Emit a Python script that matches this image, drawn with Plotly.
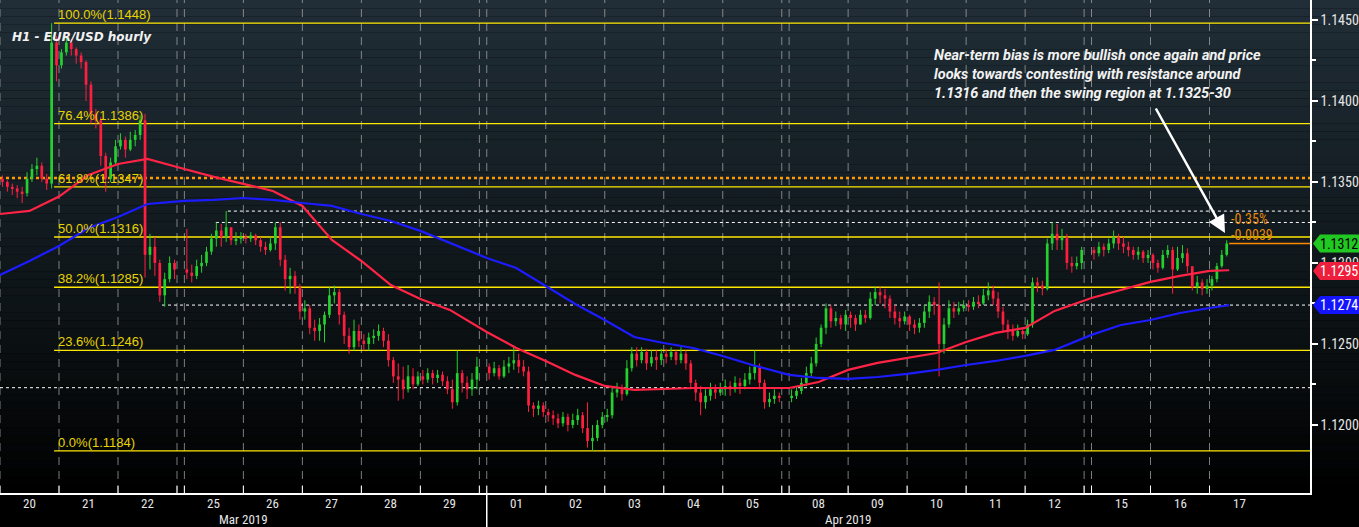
import datetime as dt
import plotly.graph_objects as go

# ---------------- DATA ----------------
trade_dates = ["2019-03-20", "2019-03-21", "2019-03-22", "2019-03-25", "2019-03-26", "2019-03-27",
               "2019-03-28", "2019-03-29", "2019-04-01", "2019-04-02", "2019-04-03", "2019-04-04",
               "2019-04-05", "2019-04-08", "2019-04-09", "2019-04-10", "2019-04-11", "2019-04-12",
               "2019-04-15", "2019-04-16", "2019-04-17"]
day_labels = ["20", "21", "22", "25", "26", "27", "28", "29", "01", "02", "03", "04", "05",
              "08", "09", "10", "11", "12", "15", "16", "17"]
month_labels = ["Mar 2019", "Apr 2019"]

# two-hour bars; prices as the four decimals of 1.xxxx (1352 -> 1.1352)
first_open_pips = 1352
close_pips = [
    [1350, 1347, 1346, 1344, 1343, 1352, 1358, 1360, 1352, 1349, 1436, 1422],
    [1430, 1436, 1432, 1428, 1424, 1410, 1392, 1388, 1366, 1352, 1362, 1372],
    [1376, 1370, 1376, 1379, 1388, 1305, 1310, 1300, 1280, 1290, 1300, 1296],
    [1294, 1292, 1298, 1300, 1307, 1315, 1320, 1316, 1322, 1314, 1315, 1316],
    [1315, 1317, 1314, 1310, 1308, 1312, 1322, 1302, 1290, 1292, 1285, 1270],
    [1272, 1260, 1258, 1262, 1268, 1280, 1282, 1268, 1255, 1248, 1258, 1252],
    [1250, 1254, 1255, 1258, 1252, 1240, 1230, 1228, 1222, 1230, 1225, 1230],
    [1228, 1232, 1229, 1231, 1227, 1222, 1214, 1232, 1226, 1222, 1228, 1236],
    [1232, 1235, 1230, 1236, 1238, 1240, 1236, 1233, 1212, 1210, 1212, 1208],
    [1206, 1204, 1201, 1205, 1200, 1203, 1206, 1198, 1190, 1192, 1200, 1205],
    [1206, 1220, 1222, 1219, 1235, 1244, 1240, 1245, 1238, 1242, 1240, 1244],
    [1242, 1245, 1240, 1244, 1238, 1226, 1220, 1214, 1218, 1222, 1220, 1222],
    [1224, 1222, 1226, 1224, 1228, 1232, 1236, 1226, 1214, 1216, 1218, 1217],
    [1218, 1221, 1226, 1232, 1238, 1250, 1260, 1272, 1264, 1266, 1262, 1268],
    [1266, 1262, 1268, 1266, 1278, 1282, 1280, 1278, 1270, 1266, 1264, 1267],
    [1262, 1260, 1263, 1270, 1276, 1274, 1250, 1262, 1272, 1270, 1272, 1274],
    [1273, 1276, 1275, 1280, 1283, 1278, 1270, 1262, 1258, 1255, 1258, 1256],
    [1262, 1288, 1286, 1284, 1312, 1318, 1314, 1316, 1300, 1298, 1300, 1308],
    [1306, 1310, 1308, 1312, 1316, 1312, 1310, 1308, 1305, 1307, 1303, 1305],
    [1300, 1297, 1305, 1308, 1296, 1303, 1306, 1298, 1285, 1288, 1284, 1286],
    [1290, 1298, 1305, 1312],
]
high_pips = [
    [1354, 1351, 1349, 1348, 1347, 1356, 1361, 1365, 1362, 1355, 1448, 1440],
    [1432, 1440, 1438, 1433, 1430, 1425, 1412, 1395, 1390, 1368, 1365, 1376],
    [1380, 1378, 1381, 1382, 1391, 1392, 1318, 1316, 1302, 1294, 1304, 1302],
    [1321, 1299, 1302, 1305, 1310, 1318, 1325, 1324, 1332, 1322, 1319, 1319],
    [1318, 1319, 1318, 1316, 1313, 1316, 1325, 1325, 1305, 1297, 1295, 1287],
    [1277, 1274, 1265, 1266, 1270, 1285, 1286, 1284, 1270, 1260, 1265, 1262],
    [1256, 1257, 1259, 1262, 1260, 1256, 1242, 1238, 1236, 1237, 1235, 1233],
    [1234, 1235, 1234, 1234, 1233, 1230, 1228, 1246, 1234, 1230, 1232, 1242],
    [1238, 1239, 1237, 1240, 1242, 1249, 1244, 1240, 1236, 1214, 1215, 1214],
    [1210, 1209, 1207, 1208, 1207, 1207, 1210, 1208, 1214, 1200, 1203, 1208],
    [1210, 1223, 1226, 1225, 1240, 1248, 1248, 1248, 1247, 1246, 1246, 1247],
    [1247, 1248, 1246, 1248, 1246, 1240, 1228, 1224, 1222, 1226, 1225, 1226],
    [1228, 1227, 1230, 1229, 1232, 1236, 1246, 1238, 1228, 1220, 1222, 1220],
    [1222, 1224, 1229, 1236, 1242, 1254, 1262, 1275, 1274, 1270, 1268, 1271],
    [1270, 1268, 1271, 1271, 1282, 1285, 1285, 1284, 1280, 1274, 1270, 1270],
    [1268, 1265, 1266, 1274, 1280, 1279, 1288, 1266, 1277, 1276, 1276, 1277],
    [1277, 1279, 1280, 1284, 1288, 1286, 1282, 1273, 1265, 1262, 1262, 1260],
    [1265, 1291, 1291, 1289, 1315, 1325, 1324, 1321, 1318, 1304, 1304, 1310],
    [1310, 1313, 1312, 1315, 1320, 1318, 1316, 1313, 1310, 1310, 1308, 1308],
    [1306, 1302, 1308, 1311, 1310, 1310, 1311, 1309, 1297, 1292, 1290, 1290],
    [1292, 1300, 1308, 1314],
]
low_pips = [
    [1347, 1344, 1342, 1340, 1337, 1341, 1350, 1354, 1350, 1345, 1346, 1412],
    [1420, 1428, 1428, 1423, 1420, 1400, 1386, 1383, 1360, 1344, 1350, 1360],
    [1370, 1365, 1369, 1372, 1376, 1291, 1296, 1292, 1276, 1273, 1288, 1290],
    [1290, 1288, 1290, 1294, 1298, 1305, 1310, 1310, 1313, 1311, 1311, 1312],
    [1312, 1313, 1311, 1307, 1305, 1307, 1308, 1298, 1283, 1281, 1281, 1265],
    [1265, 1256, 1252, 1252, 1251, 1266, 1275, 1262, 1250, 1244, 1246, 1248],
    [1246, 1246, 1250, 1252, 1248, 1236, 1226, 1215, 1216, 1220, 1222, 1224],
    [1225, 1226, 1225, 1226, 1224, 1219, 1210, 1212, 1220, 1216, 1218, 1222],
    [1228, 1230, 1228, 1229, 1232, 1234, 1232, 1230, 1208, 1205, 1206, 1205],
    [1202, 1200, 1198, 1199, 1196, 1198, 1200, 1195, 1186, 1184, 1190, 1198],
    [1202, 1204, 1217, 1215, 1218, 1233, 1236, 1238, 1234, 1236, 1234, 1237],
    [1238, 1240, 1237, 1238, 1234, 1222, 1215, 1206, 1210, 1215, 1216, 1218],
    [1218, 1218, 1220, 1219, 1222, 1225, 1228, 1222, 1210, 1211, 1213, 1214],
    [1214, 1216, 1219, 1224, 1230, 1236, 1248, 1256, 1260, 1261, 1259, 1258],
    [1260, 1258, 1262, 1263, 1265, 1274, 1275, 1272, 1266, 1262, 1260, 1262],
    [1258, 1256, 1257, 1260, 1266, 1268, 1230, 1244, 1260, 1266, 1268, 1270],
    [1270, 1271, 1272, 1274, 1277, 1274, 1266, 1258, 1253, 1252, 1254, 1253],
    [1255, 1260, 1282, 1280, 1283, 1308, 1308, 1308, 1296, 1294, 1296, 1296],
    [1302, 1304, 1304, 1306, 1309, 1308, 1306, 1304, 1302, 1302, 1300, 1300],
    [1296, 1294, 1296, 1303, 1281, 1295, 1300, 1294, 1283, 1281, 1280, 1281],
    [1283, 1288, 1297, 1304],
]

# moving averages read at the start and middle of every day (last day: start and latest bar)
red_ma_pips = [1330.2, 1332.1, 1341.0, 1354.3, 1361.1, 1364.2, 1358.0, 1353.1, 1348.8, 1344.4,
               1335.2, 1314.2, 1301.2, 1286.4, 1277.8, 1271.0, 1257.4, 1247.5, 1239.5, 1230.9,
               1224.1, 1221.6, 1222.2, 1222.8, 1222.8, 1222.8, 1222.8, 1226.5, 1234.0, 1238.3,
               1241.4, 1244.4, 1251.2, 1256.8, 1259.9, 1270.4, 1278.4, 1283.3, 1288.3, 1292.0,
               1295.1, 1295.5]
blue_ma_pips = [1292.6, 1301.2, 1310.5, 1321.6, 1328.4, 1336.4, 1338.3, 1338.9, 1340.1, 1338.9,
                1337.0, 1335.2, 1330.2, 1325.9, 1319.8, 1312.3, 1303.1, 1296.9, 1285.8, 1274.7,
                1264.8, 1254.3, 1250.6, 1247.5, 1242.6, 1237.0, 1230.9, 1229.0, 1228.4, 1229.6,
                1231.5, 1234.0, 1237.0, 1239.5, 1242.6, 1246.3, 1255.6, 1261.7, 1264.8, 1269.1,
                1272.2, 1274.0]

fib_pcts = ["100.0%", "76.4%", "61.8%", "50.0%", "38.2%", "23.6%", "0.0%"]
fib_values = [1.1448, 1.1386, 1.1347, 1.1316, 1.1285, 1.1246, 1.1184]
swing_values = [1.1332, 1.1325, 1.1274, 1.1223]
swing_from = [("25", 17.7), ("25", 12.8), ("22", 17.9), ("20", 0.0)]   # (day, hour) where each level starts
pivot_value = 1.13525
last_price = 1.1312
red_ma_last = 1.1295
blue_ma_last = 1.1274
change_pct = "-0.35%"
change_abs = "-0.0039"
y_ticks = [1.1200, 1.1250, 1.1300, 1.1350, 1.1400, 1.1450]
title_text = "H1 - EUR/USD hourly"
note_lines = ["Near-term bias is more bullish once again and price",
              "looks towards contesting with resistance around",
              "1.1316 and then the swing region at 1.1325-30"]

# ---------------- GEOMETRY ----------------
W, H = 1359, 527
PLOT_W, PLOT_H = 1310, 493
PX_PER_HOUR = 59 / 24
BAR_HOURS = 2
WEEKEND_GAP = 3
XMAX = PLOT_W / PX_PER_HOUR
YMIN, YMAX = 1.11580, 1.14623
PRICE_PER_PX = (YMAX - YMIN) / PLOT_H

week0 = dt.date.fromisoformat(trade_dates[0]).isocalendar()[1]
day_start = []
for k, s in enumerate(trade_dates):
    wk = dt.date.fromisoformat(s).isocalendar()[1] - week0
    day_start.append(24 * k + WEEKEND_GAP * wk)
day_index = {lab: i for i, lab in enumerate(day_labels)}

def to_price(p):
    return round(1.0 + p / 10000.0, 6)

bars = []  # (x, open, high, low, close)
prev = first_open_pips
for k in range(len(trade_dates)):
    for j, c in enumerate(close_pips[k]):
        x = day_start[k] + BAR_HOURS * j + BAR_HOURS / 2
        bars.append((x, to_price(prev), to_price(high_pips[k][j]), to_price(low_pips[k][j]), to_price(c)))
        prev = c
last_x = bars[-1][0] + BAR_HOURS / 2

ma_x = []
for k in range(len(trade_dates) - 1):
    ma_x += [day_start[k], day_start[k] + 12]
ma_x += [day_start[-1], last_x]

GREEN = "#25d12f"
RED = "#ff1f40"

fig = go.Figure()
# candles: wicks + bodies
for is_up, color in [(True, GREEN), (False, RED)]:
    sel = [b for b in bars if (b[4] >= b[1]) == is_up]
    wx, wy = [], []
    for x, op, h, l, c in sel:
        wx += [x, x, None]
        wy += [l, h, None]
    fig.add_trace(go.Scatter(x=wx, y=wy, mode="lines", line=dict(color=color, width=1),
                             showlegend=False, hoverinfo="skip"))
    fig.add_trace(go.Bar(x=[b[0] for b in sel], base=[min(b[1], b[4]) for b in sel],
                         y=[max(abs(b[4] - b[1]), 0.00005) for b in sel], width=1.1,
                         marker=dict(color=color, line=dict(width=0)), showlegend=False, hoverinfo="skip"))

fig.add_trace(go.Scatter(x=ma_x, y=[to_price(v) for v in red_ma_pips], mode="lines",
                         line=dict(color="#ff2446", width=2.2), showlegend=False, hoverinfo="skip"))
fig.add_trace(go.Scatter(x=ma_x, y=[to_price(v) for v in blue_ma_pips], mode="lines",
                         line=dict(color="#1c1cff", width=2.2), showlegend=False, hoverinfo="skip"))

shapes = []
# background gradient (plot area and right-hand label strip)
stops = [(0.0, (33, 46, 55)), (0.45, (18, 27, 32)), (0.75, (9, 13, 15)), (1.0, (0, 0, 0))]
def grad(t):
    for (t0, c0), (t1, c1) in zip(stops[:-1], stops[1:]):
        if t <= t1:
            f = (t - t0) / (t1 - t0)
            return "rgb(%d,%d,%d)" % tuple(round(a + (b - a) * f) for a, b in zip(c0, c1))
    return "rgb(0,0,0)"
NB = 60
for i in range(NB):
    shapes.append(dict(type="rect", xref="paper", yref="paper", x0=0, x1=W / PLOT_W,
                       y0=1 - (i + 1) / NB, y1=1 - i / NB, fillcolor=grad((i + 0.5) / NB),
                       line=dict(width=0), layer="below"))
# day boundary grid lines and small ticks
bounds = []
for k in range(len(trade_dates)):
    bounds.append(day_start[k])
    if k + 1 < len(trade_dates) and day_start[k + 1] != day_start[k] + 24:
        bounds.append(day_start[k] + 24)
for b in bounds:
    shapes.append(dict(type="line", xref="x", yref="y", x0=b, x1=b, y0=YMIN, y1=YMAX,
                       line=dict(color="rgba(165,165,165,0.75)", width=1, dash="8px,6px"), layer="below"))
    shapes.append(dict(type="line", xref="x", yref="paper", x0=b, x1=b, y0=0, y1=7 / PLOT_H,
                       line=dict(color="white", width=1), layer="above"))
x01 = day_start[day_index["01"]]
shapes.append(dict(type="line", xref="x", yref="paper", x0=x01, x1=x01,
                   y0=-(H - PLOT_H) / PLOT_H, y1=0, line=dict(color="white", width=1.5), layer="above"))
shapes.append(dict(type="line", xref="x", yref="y", x0=0, x1=XMAX, y0=pivot_value, y1=pivot_value,
                   line=dict(color="#ff9a00", width=2.5, dash="dot"), layer="below"))
for v, (dlab, hr) in zip(swing_values, swing_from):
    x0 = day_start[day_index[dlab]] + hr
    shapes.append(dict(type="line", xref="x", yref="y", x0=x0, x1=XMAX, y0=v, y1=v,
                       line=dict(color="white", width=1, dash="3px,3px"), layer="below"))
fib_x0 = day_start[0] + 22
for v in fib_values:
    shapes.append(dict(type="line", xref="x", yref="y", x0=fib_x0, x1=XMAX, y0=v, y1=v,
                       line=dict(color="#ffe800", width=1.3), layer="below"))
shapes.append(dict(type="line", xref="x", yref="y", x0=last_x, x1=XMAX, y0=last_price, y1=last_price,
                   line=dict(color="#ff8a00", width=1.5), layer="above"))

NARROW = "Liberation Sans Narrow, Roboto Condensed, Liberation Sans"
annotations = []
for p, v in zip(fib_pcts, fib_values):
    annotations.append(dict(x=fib_x0 + 0.6, y=v, xref="x", yref="y", xanchor="left", yanchor="bottom",
                            text="%s(%.4f)" % (p, v), showarrow=False, yshift=-1,
                            font=dict(family="Liberation Sans, Arial", size=13, color="#e8d400")))
annotations.append(dict(x=10 / PLOT_W, y=1 - 37 / PLOT_H, xref="paper", yref="paper", xanchor="left",
                        yanchor="middle", text="<b><i>%s</i></b>" % title_text, showarrow=False,
                        font=dict(family="DejaVu Sans", size=12, color="#f2f2f2")))
for i, line in enumerate(note_lines):
    annotations.append(dict(x=932 / PLOT_W, y=1 - (55 + 19.5 * i) / PLOT_H, xref="paper", yref="paper",
                            xanchor="left", yanchor="middle", text="<b><i>%s</i></b>" % line, showarrow=False,
                            font=dict(family="Roboto", size=14.5, color="#f2f2f2")))
annotations.append(dict(x=1225 / PX_PER_HOUR, y=YMAX - 233 * PRICE_PER_PX, xref="x", yref="y",
                        ax=-70, ay=-126, text="", showarrow=True,
                        arrowcolor="white", arrowwidth=2.5, arrowhead=2, arrowsize=1.4, standoff=0))
for i, t in enumerate([change_pct, change_abs]):
    annotations.append(dict(x=last_x, y=YMAX - (219 + 16 * i) * PRICE_PER_PX, xref="x", yref="y",
                            xanchor="left", yanchor="middle", text=t, showarrow=False,
                            font=dict(family=NARROW, size=14, color="#e8890a")))
box_h = 18 * PRICE_PER_PX
for val, bg, fg in [(last_price, "#22c822", "#000000"), (red_ma_last, "#ee1f3c", "#ffffff"),
                    (blue_ma_last, "#1414ff", "#ffffff")]:
    xa, xb, xc = 1313 / PLOT_W, 1320 / PLOT_W, W / PLOT_W
    shapes.append(dict(type="path", xref="paper", yref="y",
                       path="M %f,%f L %f,%f L %f,%f L %f,%f L %f,%f Z" % (
                           xa, val, xb, val + box_h / 2, xc, val + box_h / 2, xc, val - box_h / 2, xb, val - box_h / 2),
                       fillcolor=bg, line=dict(width=0), layer="above"))
    annotations.append(dict(x=1339.5 / PLOT_W, y=val, xref="paper", yref="y", xanchor="center", yanchor="middle",
                            text="%.4f" % val, showarrow=False, font=dict(family=NARROW, size=14, color=fg)))
for lab, s in zip(day_labels, day_start):
    annotations.append(dict(x=s + 12, y=-(503 - PLOT_H) / PLOT_H, xref="x", yref="paper", xanchor="center",
                            yanchor="middle", text=lab, showarrow=False,
                            font=dict(family=NARROW, size=13, color="#e6e6e6")))
for lab, cx in zip(month_labels, [day_start[day_index["26"]], day_start[day_index["09"]]]):
    annotations.append(dict(x=cx, y=-(519 - PLOT_H) / PLOT_H, xref="x", yref="paper", xanchor="center",
                            yanchor="middle", text=lab, showarrow=False,
                            font=dict(family=NARROW, size=13, color="#e6e6e6")))

fig.update_layout(
    width=W, height=H, margin=dict(l=0, r=W - PLOT_W, t=0, b=H - PLOT_H, pad=0),
    paper_bgcolor="#000000", plot_bgcolor="rgba(0,0,0,0)", barmode="overlay",
    shapes=shapes, annotations=annotations, showlegend=False, hovermode=False,
    xaxis=dict(type="linear", range=[0, XMAX], showgrid=False, zeroline=False, showticklabels=False,
               ticks="", showline=True, linecolor="white", linewidth=1.5, fixedrange=True),
    yaxis=dict(type="linear", range=[YMIN, YMAX], side="right", showgrid=False, zeroline=False,
               tickmode="array", tickvals=y_ticks, ticktext=["%.4f" % v for v in y_ticks],
               ticks="outside", ticklen=6, tickcolor="white", tickwidth=1.5,
               minor=dict(tickmode="array", tickvals=[v + 0.0025 for v in y_ticks], ticks="outside",
                          ticklen=4, tickcolor="white"),
               tickfont=dict(family=NARROW, size=14, color="#e6e6e6"),
               showline=True, linecolor="white", linewidth=1.5, fixedrange=True),
)
fig.write_html("out.html")
